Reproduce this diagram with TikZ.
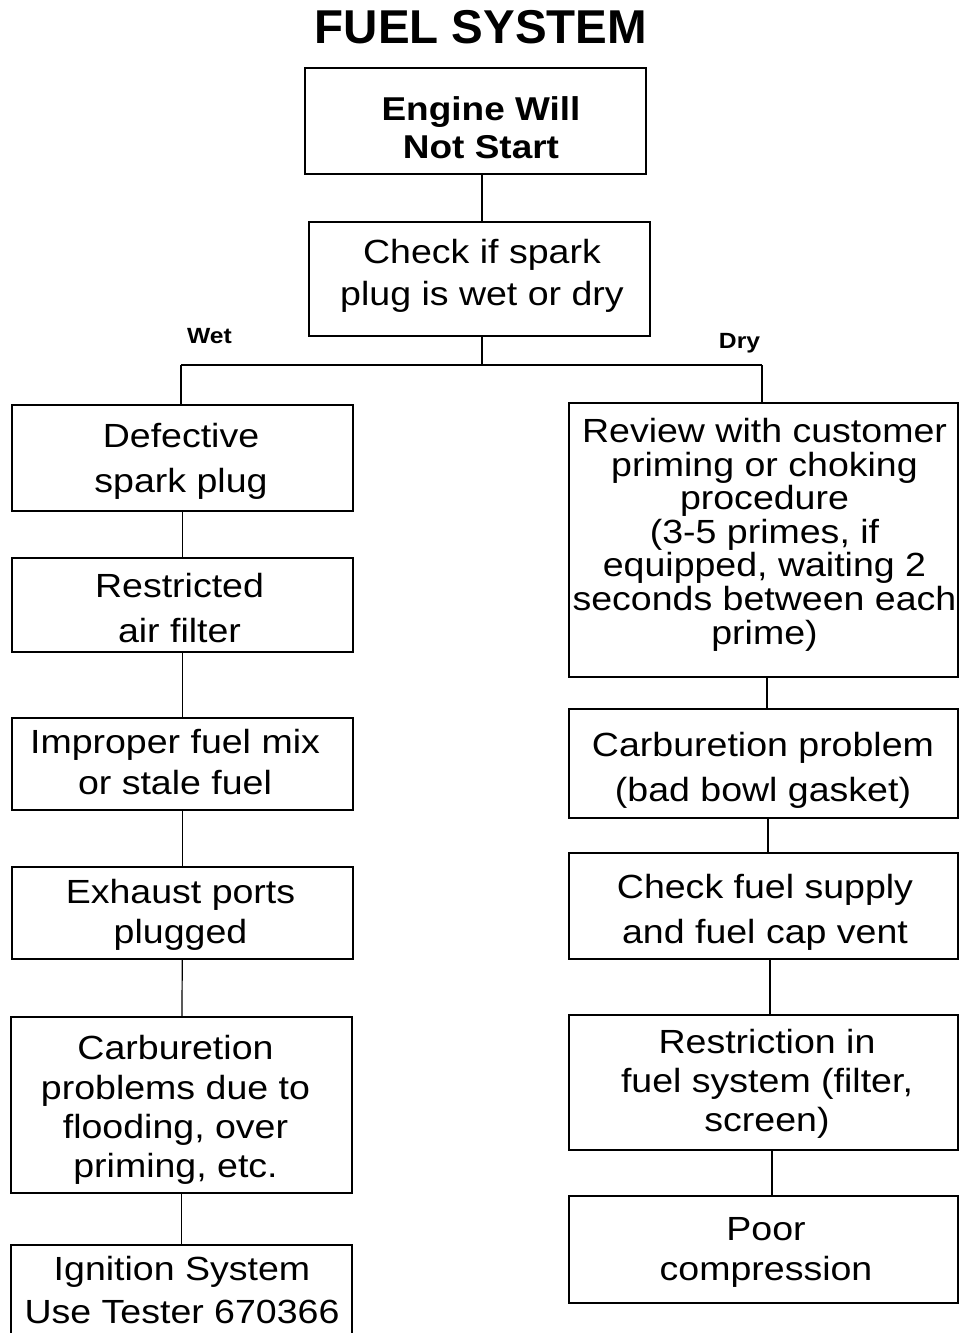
\documentclass[tikz,border=0pt]{standalone}
\usepackage{fontspec}
\setmainfont{Liberation Sans}[FakeStretch=1.12]
\newfontfamily\titlefont{Liberation Sans}
\newcommand\sst{\rule[-0.22em]{0pt}{0.97em}}
\tikzset{
  box/.style={draw, line width=1.2pt, inner sep=0pt},
  txt/.style={inner sep=0pt, align=center},
  link/.style={line width=1.2pt},
  lbl/.style={font=\bfseries\fontsize{22}{24}\selectfont, inner sep=0pt, anchor=base}
}
\begin{document}
\begin{tikzpicture}[x=1pt,y=-1pt]
\useasboundingbox (0,0) rectangle (959,1333);
\node[anchor=base, inner sep=0pt, font=\titlefont\bfseries\fontsize{47.5}{50}\selectfont] (title) at (481,43) {FUEL SYSTEM};
% boxes
\node[box, minimum width=341, minimum height=106] (engine) at (475.5,121) {};
\node[box, minimum width=341, minimum height=114] (check) at (479.5,279) {};
\node[box, minimum width=341, minimum height=106] (defective) at (182.5,458) {};
\node[box, minimum width=341, minimum height=94] (restricted) at (182.5,605) {};
\node[box, minimum width=341, minimum height=92] (improper) at (182.5,764) {};
\node[box, minimum width=341, minimum height=92] (exhaust) at (182.5,913) {};
\node[box, minimum width=341, minimum height=176] (carbflood) at (181.5,1105) {};
\node[box, minimum width=341, minimum height=90] (ignition) at (181.5,1290) {};
\node[box, minimum width=389, minimum height=274] (review) at (763.5,540) {};
\node[box, minimum width=389, minimum height=109] (carbprob) at (763.5,763.5) {};
\node[box, minimum width=389, minimum height=106] (checkfuel) at (763.5,906) {};
\node[box, minimum width=389, minimum height=135] (restriction) at (763.5,1082.5) {};
\node[box, minimum width=389, minimum height=107] (poor) at (763.5,1249.5) {};
% texts
\node[txt, font=\bfseries\fontsize{33}{38}\selectfont] (engine-t) at (481,130.3) {\sst Engine Will\\Not Start\sst};
\node[txt, font=\fontsize{33.5}{42}\selectfont] (check-t) at (482,276) {\sst Check if spark\\plug is wet or dry\sst};
\node[txt, font=\fontsize{33.5}{45.7}\selectfont] (defective-t) at (181,461) {\sst Defective\\spark plug\sst};
\node[txt, font=\fontsize{33.5}{45}\selectfont] (restricted-t) at (179.5,611) {\sst Restricted\\air filter\sst};
\node[txt, font=\fontsize{33.5}{40.5}\selectfont] (improper-t) at (175,765) {\sst Improper fuel mix\\or stale fuel\sst};
\node[txt, font=\fontsize{33.5}{40}\selectfont] (exhaust-t) at (180.5,914.5) {\sst Exhaust ports\\plugged\sst};
\node[txt, font=\fontsize{33.5}{39.3}\selectfont] (carbflood-t) at (175.5,1110) {\sst Carburetion\\problems due to\\flooding, over\\priming, etc.\sst};
\node[txt, font=\fontsize{33.5}{43.5}\selectfont] (ignition-t) at (182,1293) {\sst Ignition System\\Use Tester 670366\sst};
\node[txt, font=\fontsize{33.5}{33.6}\selectfont] (review-t) at (764.5,534.5) {\sst Review with customer\\priming or choking\\procedure\\(3-5 primes, if\\equipped, waiting 2\\seconds between each\\prime)\sst};
\node[txt, font=\fontsize{33.5}{45}\selectfont] (carbprob-t) at (763,770.6) {\sst Carburetion problem\\(bad bowl gasket)\sst};
\node[txt, font=\fontsize{33.5}{45}\selectfont] (checkfuel-t) at (765,912.5) {\sst Check fuel supply\\and fuel cap vent\sst};
\node[txt, font=\fontsize{33.5}{39}\selectfont] (restriction-t) at (767,1083.5) {\sst Restriction in\\fuel system (filter,\\screen)\sst};
\node[txt, font=\fontsize{33.5}{39.5}\selectfont] (poor-t) at (766,1251.6) {\sst Poor\\compression\sst};
% labels
\node[lbl] (wet) at (209.5,343.5) {Wet};
\node[lbl] (dry) at (739.5,348) {Dry};
% junctions
\coordinate (jm) at (482,365);
\coordinate (jl) at (181,365);
\coordinate (jr) at (762,365);
% connectors
\draw[link] (engine.south -| jm) -- (check.north -| jm);
\draw[link] (check.south -| jm) -- (jm);
\draw[link] (jl) -- (jr);
\draw[link] (jl) -- (defective.north -| jl);
\draw[link] (jr) -- (review.north -| jr);
\draw[link] (defective) -- (restricted);
\draw[link] (restricted) -- (improper);
\draw[link] (improper) -- (exhaust);
\draw[link] (exhaust) -- (carbflood);
\draw[link] (carbflood) -- (ignition);
\draw[link] ([xshift=3.5pt]review.south) -- ([xshift=3.5pt]carbprob.north);
\draw[link] ([xshift=4.5pt]carbprob.south) -- ([xshift=4.5pt]checkfuel.north);
\draw[link] ([xshift=6.5pt]checkfuel.south) -- ([xshift=6.5pt]restriction.north);
\draw[link] ([xshift=8.5pt]restriction.south) -- ([xshift=8.5pt]poor.north);
\end{tikzpicture}
\end{document}
